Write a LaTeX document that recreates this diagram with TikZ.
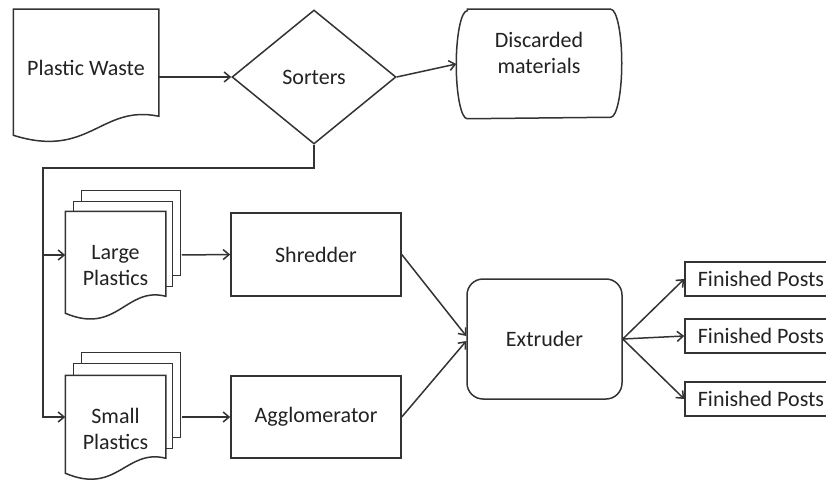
\documentclass[tikz,border=0pt]{standalone}
\usepackage{fontspec}
\setmainfont{Carlito}
\usetikzlibrary{positioning,shapes.geometric,arrows.meta,backgrounds}
\definecolor{lineclr}{HTML}{333333}
\definecolor{textclr}{HTML}{222222}

\tikzset{
  doc/.style={rectangle, inner sep=0, minimum width=99},
  decision/.style={diamond, draw, fill=white, inner sep=0, minimum width=164, minimum height=134},
  terminal/.style={rectangle, inner sep=0, minimum width=164, minimum height=108},
  machine/.style={rectangle, draw, fill=white, inner sep=0, minimum width=170, minimum height=83},
  extruder/.style={rectangle, rounded corners=16pt, draw, fill=white, inner sep=0,
    minimum width=155, minimum height=120},
  post/.style={rectangle, draw, fill=white, inner sep=0, minimum width=152, minimum height=34},
  sheet/.style={draw=lineclr, line width=1.5pt, fill=white}
}

\begin{document}
\begin{tikzpicture}[x=1pt, y=1pt, line width=1.5pt, color=lineclr,
    >={Straight Barb[length=6pt,width=10pt]},
    every node/.style={font=\fontsize{22}{26}\selectfont, text=textclr, align=center}]
  \useasboundingbox (0,0) rectangle (826,480);
  \clip (0,0) rectangle (826,480);

  \node[doc, minimum width=144, minimum height=116] (waste) at (86,412) {Plastic Waste};
  \node[decision] (sort) at (314,403) {Sorters};
  \node[terminal, label={[yshift=11]center:Discarded\\materials}] (disc) at (539,416) {};

  \node[doc, minimum height=108] (large) at (115.5,214) {Large\\Plastics};
  \node[doc, minimum height=106] (small) at (115.5,51) {Small\\Plastics};

  \node[machine] (shred) at (316,225.5) {Shredder};
  \node[machine, minimum height=82] (aggl) at (316,63) {Agglomerator};
  \node[extruder] (ext) at (544.5,141) {Extruder};

  \node[post] (post1) at (761,201) {Finished Posts};
  \node[post] (post2) at (761,144) {Finished Posts};
  \node[post] (post3) at (761,81) {Finished Posts};

  % outlines behind the text
  \begin{scope}[on background layer]
    \draw[sheet] ([xshift=11]disc.north west) -- ([xshift=-11]disc.north east)
      arc[start angle=90, end angle=-90, x radius=11, y radius=54]
      -- ([xshift=11]disc.south west)
      arc[start angle=270, end angle=90, x radius=11, y radius=54] -- cycle;

    \draw[sheet] (waste.north west) -- (waste.north east) -- ++(0,-107)
      .. controls +(-58,12) and +(76,-24) .. ([yshift=-126]waste.north west) -- cycle;

    \draw[sheet] ([shift={(16,21)}]large.north west) rectangle ++(99,-85);
    \draw[sheet] ([shift={(8,10)}]large.north west) rectangle ++(99,-85);
    \draw[sheet] (large.north west) -- (large.north east) -- ++(0,-85)
      .. controls +(-40,10) and +(52,-22) .. ([yshift=-102]large.north west) -- cycle;

    \draw[sheet] ([shift={(16,23)}]small.north west) rectangle ++(99,-85);
    \draw[sheet] ([shift={(8,12)}]small.north west) rectangle ++(99,-85);
    \draw[sheet] (small.north west) -- (small.north east) -- ++(0,-83)
      .. controls +(-40,10) and +(52,-22) .. ([yshift=-98]small.north west) -- cycle;
  \end{scope}

  \coordinate (bend) at (43,312);
  \coordinate (lgin) at ([yshift=11]large.west);
  \coordinate (smin) at ([yshift=12]small.west);
  \coordinate (lgout) at ([shift={(16,11)}]large.east);
  \coordinate (smout) at ([shift={(16,12)}]small.east);

  \draw[->] (waste.east |- sort.west) -- (sort.west);
  \draw[->] (sort.east) -- (disc.west);
  \draw[->] (sort.south) |- (bend) |- (smin);
  \draw[->] (bend |- lgin) -- (lgin);
  \draw[->] (lgout) -- (shred.west);
  \draw[->] (smout) -- (aggl.west);
  \draw[->] (shred.east) -- ([yshift=3]ext.west);
  \draw[->] (aggl.east) -- ([yshift=-2]ext.west);
  \draw[->] (ext.east) -- (post1.west);
  \draw[->] (ext.east) -- (post2.west);
  \draw[->] (ext.east) -- (post3.west);
\end{tikzpicture}
\end{document}
